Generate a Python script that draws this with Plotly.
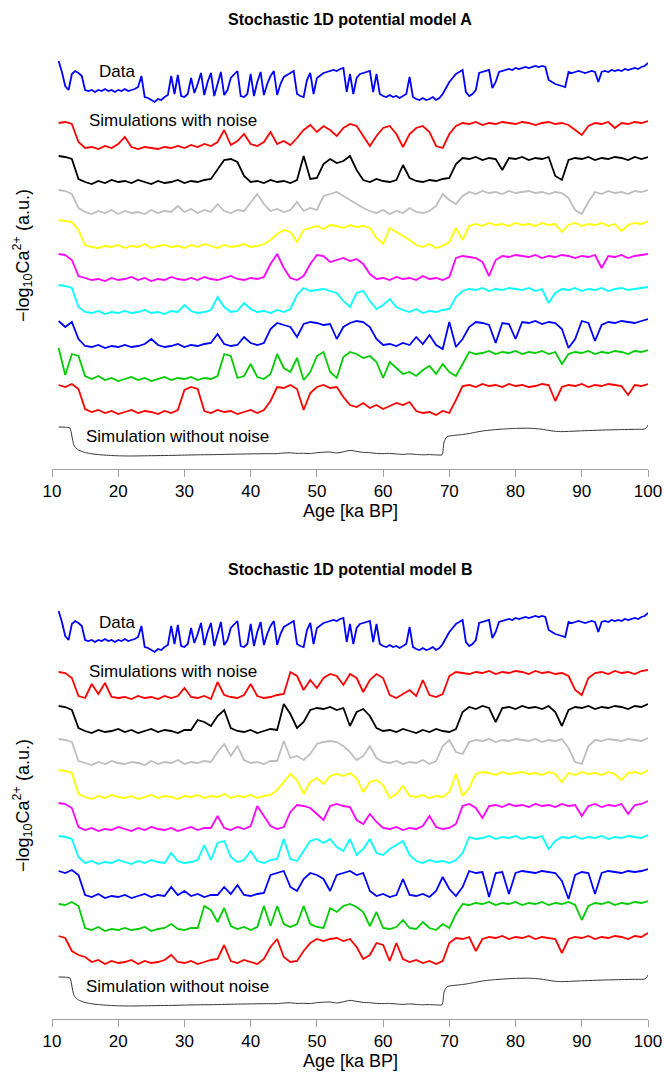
import plotly.graph_objects as go

# ---------------- data (a.u., height above each series' own cold level) ----------------
AGE = list(range(11, 101))
DATA_AGE = [11.0 + 0.5 * i for i in range(179)]

DATA = [41, 30, 16, 12, 28, 31, 29, 26, 12, 11,
        12, 10, 12, 11, 13, 11, 12, 10, 12, 11,
        13, 11, 12, 13, 15, 26, 5, 4, 2, 0,
        3, 2, 5, 7, 26, 8, 27, 6, 5, 8,
        24, 9, 18, 29, 7, 20, 29, 6, 18, 30,
        7, 12, 24, 28, 31, 6, 5, 8, 28, 6,
        20, 30, 7, 18, 26, 31, 7, 18, 25, 27,
        29, 31, 8, 6, 5, 22, 29, 8, 24, 27,
        29, 30, 31, 32, 31, 33, 34, 10, 28, 8,
        24, 28, 29, 30, 31, 10, 28, 8, 6, 5,
        7, 5, 6, 4, 6, 8, 25, 5, 3, 2,
        4, 2, 3, 5, 2, 4, 8, 14, 20, 24,
        28, 30, 32, 10, 6, 8, 12, 29, 30, 31,
        32, 14, 20, 30, 31, 32, 33, 32, 34, 33,
        34, 35, 34, 35, 36, 35, 36, 35, 22, 20,
        18, 17, 16, 15, 30, 29, 30, 31, 30, 29,
        30, 31, 30, 20, 30, 31, 30, 32, 31, 32,
        31, 33, 32, 33, 34, 33, 35, 36, 39]

NN_AGE = [11, 12, 12.7, 13.0, 13.3, 13.7, 14, 15, 16, 17,
          18, 19, 20, 22, 24, 26, 28, 30, 32, 34,
          36, 38, 40, 42, 44, 45, 46, 47, 48, 49,
          50, 51, 52, 53, 54, 55, 56, 57, 58, 59,
          60, 61, 62, 63, 64, 65, 66, 67, 68, 68.9,
          69.2, 69.6, 70, 71, 72, 73, 74, 75, 76, 77,
          78, 79, 80, 82, 84, 85, 86, 87, 88, 90,
          92, 94, 96, 98, 99.5, 99.8, 100]
NO_NOISE = [29, 28.8, 28, 20, 11, 7.5, 6, 3.5, 2.2, 1.4,
            0.9, 0.5, 0.2, 0, 0.2, 0.4, 0.6, 0.9, 1.2, 1.3,
            1.6, 1.9, 2.1, 2.3, 2.4, 3.0, 3.2, 2.6, 2.7, 2.5,
            3.3, 3.8, 4.0, 3.0, 4.2, 5.6, 4.6, 3.6, 3.3, 2.6,
            2.4, 2.6, 2.0, 1.6, 2.1, 1.6, 1.2, 1.4, 1.1, 1.3,
            14, 19, 20, 20.8, 21.5, 22.5, 23.8, 25, 25.8, 26.4,
            26.9, 27.3, 27.6, 27.8, 26.8, 25.6, 24.7, 24.4, 24.6, 25.2,
            25.7, 26.1, 26.4, 26.7, 27, 28.5, 31]

# model A simulations (top to bottom)
A_RED1 = [27, 28, 26, 8, 2, 3, 1, 4, 2, 6,
          13, 3, 1, 3, 2, 1, 3, 2, 4, 2,
          5, 3, 6, 4, 8, 20, 5, 9, 16, 6,
          4, 8, 18, 6, 9, 5, 12, 20, 25, 18,
          24, 20, 14, 22, 26, 24, 14, 4, 14, 22,
          24, 16, 3, 16, 22, 24, 18, 4, 2, 16,
          24, 27, 26, 28, 25, 27, 26, 28, 27, 26,
          28, 27, 25, 27, 28, 26, 27, 25, 20, 15,
          24, 27, 26, 28, 22, 27, 26, 28, 27, 29]
A_BLACK = [28, 27, 25, 5, 2, 0, 3, 1, 4, 2,
           3, 1, 4, 2, 0, 3, 1, 2, 4, 1,
           3, 2, 4, 5, 14, 24, 25, 22, 8, 2,
           3, 1, 4, 2, 3, 1, 4, 28, 5, 6,
           20, 25, 21, 23, 28, 14, 4, 2, 5, 3,
           2, 4, 19, 6, 3, 2, 4, 3, 5, 6,
           20, 26, 25, 27, 24, 26, 25, 14, 26, 25,
           27, 24, 26, 25, 27, 8, 4, 24, 26, 25,
           27, 24, 26, 25, 27, 26, 24, 27, 25, 27]
A_GRAY = [26, 25, 22, 8, 4, 2, 5, 3, 6, 2,
          5, 3, 4, 2, 6, 3, 5, 4, 10, 4,
          7, 3, 6, 4, 12, 5, 3, 6, 5, 14,
          22, 12, 5, 7, 4, 6, 14, 5, 8, 6,
          20, 22, 24, 20, 16, 12, 8, 5, 3, 6,
          2, 5, 3, 8, 4, 3, 5, 10, 22, 16,
          12, 20, 24, 22, 25, 23, 24, 22, 25, 23,
          24, 25, 23, 24, 22, 24, 23, 18, 6, 2,
          14, 24, 22, 25, 23, 24, 22, 25, 24, 26]
A_YELLOW = [30, 29, 28, 20, 5, 3, 2, 4, 3, 5,
            2, 4, 3, 6, 2, 4, 5, 3, 4, 2,
            5, 3, 6, 4, 2, 5, 3, 4, 6, 3,
            4, 6, 10, 16, 20, 18, 8, 20, 22, 24,
            21, 25, 24, 22, 25, 23, 24, 22, 12, 6,
            22, 18, 14, 10, 5, 3, 6, 2, 4, 8,
            22, 10, 24, 26, 24, 27, 25, 26, 24, 27,
            25, 26, 24, 27, 25, 26, 18, 25, 27, 24,
            26, 25, 27, 24, 26, 19, 25, 27, 26, 29]
A_MAGENTA = [28, 27, 22, 6, 4, 2, 3, 1, 4, 2,
             3, 5, 2, 4, 1, 3, 2, 5, 3, 2,
             4, 2, 5, 3, 2, 4, 6, 3, 2, 4,
             3, 5, 18, 28, 14, 4, 2, 6, 18, 27,
             26, 20, 22, 24, 21, 23, 18, 8, 3, 4,
             2, 5, 3, 4, 2, 6, 3, 4, 2, 5,
             24, 26, 25, 24, 20, 6, 22, 26, 25, 27,
             26, 25, 27, 24, 26, 25, 27, 26, 24, 26,
             25, 27, 14, 26, 25, 27, 24, 26, 27, 28]
A_CYAN = [30, 29, 27, 8, 3, 2, 4, 1, 3, 2,
          4, 2, 3, 5, 2, 3, 1, 4, 3, 10,
          4, 2, 3, 5, 18, 8, 3, 4, 12, 6,
          3, 4, 2, 5, 3, 6, 20, 27, 24, 25,
          26, 24, 22, 14, 8, 22, 24, 14, 6, 10,
          16, 8, 5, 3, 6, 2, 4, 3, 5, 6,
          18, 24, 26, 25, 27, 24, 26, 25, 27, 26,
          25, 27, 24, 26, 12, 22, 26, 25, 27, 24,
          26, 25, 27, 24, 26, 27, 25, 26, 27, 28]
A_BLUE = [28, 22, 27, 10, 3, 2, 4, 1, 3, 2,
          4, 2, 3, 5, 10, 4, 2, 3, 5, 2,
          4, 3, 5, 6, 15, 5, 3, 4, 12, 6,
          4, 6, 20, 26, 24, 22, 12, 25, 27, 26,
          24, 25, 10, 22, 26, 28, 27, 22, 10, 4,
          5, 3, 6, 4, 12, 5, 14, 4, 0, 27,
          2, 10, 22, 27, 26, 24, 6, 26, 25, 10,
          27, 26, 28, 25, 27, 26, 20, 1, 10, 28,
          26, 8, 24, 27, 26, 28, 27, 26, 28, 30]
A_GREEN = [34, 7, 28, 26, 6, 3, 6, 2, 4, 1,
           3, 5, 2, 4, 1, 3, 5, 2, 4, 3,
           5, 2, 4, 3, 6, 28, 26, 4, 6, 18,
           5, 3, 8, 28, 14, 10, 24, 2, 10, 26,
           30, 10, 4, 25, 30, 28, 24, 26, 20, 4,
           20, 14, 8, 10, 6, 12, 16, 8, 18, 10,
           6, 18, 30, 28, 29, 31, 28, 30, 29, 31,
           28, 30, 29, 31, 28, 30, 18, 28, 30, 29,
           31, 28, 30, 29, 31, 30, 28, 31, 30, 32]
A_RED2 = [30, 28, 31, 26, 6, 3, 5, 2, 4, 1,
          3, 5, 2, 4, 3, 1, 4, 2, 5, 25,
          28, 26, 4, 2, 5, 3, 4, 1, 3, 5,
          2, 5, 14, 28, 27, 30, 26, 5, 22, 28,
          30, 27, 28, 18, 10, 8, 12, 7, 10, 6,
          9, 12, 10, 13, 4, 2, 3, 0, 4, 2,
          15, 29, 30, 28, 31, 29, 30, 28, 31, 29,
          30, 28, 29, 31, 30, 14, 28, 30, 29, 31,
          28, 30, 29, 31, 30, 29, 20, 30, 29, 31]

# model B simulations (top to bottom)
B_RED1 = [28, 27, 22, 4, 2, 16, 6, 17, 3, 2,
          3, 1, 4, 2, 3, 1, 4, 2, 4, 12,
          3, 2, 4, 1, 18, 5, 3, 2, 5, 16,
          4, 2, 3, 5, 6, 28, 24, 10, 20, 12,
          22, 26, 24, 15, 26, 22, 8, 20, 26, 22,
          5, 2, 6, 10, 4, 20, 5, 3, 6, 24,
          28, 27, 26, 28, 27, 29, 26, 28, 27, 29,
          28, 26, 29, 27, 28, 26, 27, 24, 10, 5,
          22, 27, 28, 26, 29, 27, 28, 26, 29, 30]
B_BLACK = [28, 27, 24, 6, 3, 1, 4, 2, 3, 5,
           2, 4, 1, 3, 5, 2, 4, 3, 1, 4,
           4, 14, 12, 8, 18, 24, 6, 3, 2, 4,
           1, 3, 5, 4, 30, 20, 6, 12, 24, 26,
           25, 27, 24, 26, 8, 22, 25, 18, 6, 3,
           4, 2, 5, 3, 1, 4, 2, 5, 3, 2,
           5, 22, 27, 25, 28, 26, 12, 26, 27, 25,
           28, 26, 27, 25, 28, 22, 8, 24, 27, 26,
           28, 25, 27, 26, 28, 27, 25, 28, 27, 30]
B_GRAY = [27, 26, 24, 5, 3, 1, 4, 2, 5, 3,
          2, 4, 3, 1, 5, 2, 4, 3, 6, 2,
          4, 3, 5, 4, 14, 22, 10, 20, 6, 3,
          4, 2, 5, 5, 25, 8, 10, 6, 12, 22,
          24, 25, 24, 20, 14, 6, 10, 20, 8, 4,
          3, 5, 2, 4, 3, 6, 2, 5, 20, 26,
          14, 12, 24, 26, 25, 27, 24, 26, 25, 27,
          26, 25, 27, 24, 26, 25, 27, 18, 4, 2,
          20, 26, 25, 27, 26, 25, 27, 26, 25, 28]
B_YELLOW = [30, 29, 27, 6, 3, 1, 4, 2, 5, 3,
            2, 4, 1, 3, 5, 2, 4, 3, 1, 4,
            3, 5, 2, 4, 3, 6, 2, 4, 3, 5,
            2, 4, 5, 10, 18, 26, 20, 6, 18, 22,
            16, 24, 26, 24, 27, 22, 8, 18, 20, 15,
            2, 6, 14, 4, 3, 5, 2, 4, 3, 8,
            26, 4, 12, 26, 28, 27, 25, 28, 26, 27,
            28, 26, 27, 25, 28, 26, 18, 27, 25, 28,
            26, 27, 25, 28, 26, 20, 27, 28, 26, 30]
B_MAGENTA = [29, 28, 24, 5, 2, 4, 1, 3, 2, 5,
             3, 1, 4, 2, 5, 3, 2, 4, 1, 3,
             5, 2, 4, 4, 16, 4, 2, 5, 3, 6,
             26, 16, 6, 3, 5, 20, 27, 26, 24, 18,
             12, 26, 28, 26, 25, 12, 8, 18, 10, 4,
             3, 5, 2, 4, 3, 6, 16, 5, 3, 4,
             8, 26, 28, 24, 14, 26, 27, 25, 28, 26,
             27, 25, 28, 26, 27, 25, 28, 26, 27, 16,
             26, 28, 25, 27, 26, 28, 18, 27, 28, 31]
B_CYAN = [29, 28, 26, 8, 2, 4, 1, 3, 2, 5,
          3, 1, 4, 2, 5, 3, 2, 12, 4, 2,
          3, 5, 20, 5, 22, 24, 8, 3, 5, 14,
          4, 2, 5, 6, 26, 6, 4, 14, 24, 26,
          22, 26, 18, 14, 26, 10, 16, 26, 12, 10,
          16, 20, 24, 10, 4, 2, 5, 3, 4, 2,
          5, 12, 28, 26, 27, 29, 26, 28, 27, 29,
          26, 28, 27, 29, 16, 24, 28, 27, 29, 26,
          28, 27, 29, 26, 28, 27, 29, 28, 27, 30]
B_BLUE = [28, 26, 29, 24, 4, 2, 5, 1, 3, 2,
          4, 1, 3, 5, 2, 4, 3, 12, 4, 8,
          3, 5, 2, 4, 4, 12, 5, 14, 4, 3,
          5, 6, 24, 26, 28, 12, 8, 20, 26, 24,
          20, 8, 24, 26, 28, 24, 26, 8, 3, 5,
          2, 4, 20, 4, 3, 5, 2, 8, 22, 10,
          3, 12, 28, 26, 27, 2, 26, 27, 5, 26,
          28, 27, 26, 28, 27, 26, 18, 0, 24, 27,
          26, 5, 26, 28, 27, 26, 28, 27, 28, 30]
B_GREEN = [28, 27, 30, 26, 4, 2, 5, 1, 3, 2,
           4, 2, 3, 5, 1, 3, 4, 8, 3, 2,
           4, 4, 26, 22, 10, 24, 6, 3, 5, 2,
           5, 26, 6, 26, 8, 5, 8, 26, 8, 5,
           4, 24, 20, 26, 28, 25, 20, 6, 20, 4,
           3, 5, 12, 4, 3, 10, 4, 2, 8, 4,
           18, 28, 27, 29, 28, 30, 27, 29, 28, 30,
           27, 29, 28, 30, 27, 29, 28, 30, 27, 12,
           26, 29, 28, 30, 27, 29, 28, 30, 29, 31]
B_RED2 = [29, 27, 14, 10, 8, 3, 5, 1, 4, 2,
          3, 5, 1, 4, 2, 3, 5, 10, 3, 2,
          4, 1, 3, 5, 6, 20, 4, 2, 5, 3,
          1, 6, 18, 26, 8, 3, 4, 14, 22, 26,
          24, 26, 27, 24, 26, 18, 6, 10, 22, 20,
          4, 22, 6, 3, 5, 2, 4, 1, 4, 22,
          27, 26, 28, 14, 26, 28, 27, 29, 26, 28,
          27, 29, 26, 28, 27, 26, 12, 26, 28, 27,
          29, 26, 28, 27, 29, 28, 26, 29, 28, 32]

X_TICKS = [10, 20, 30, 40, 50, 60, 70, 80, 90, 100]

# ---------------- layout / styling ----------------
W, H = 664, 1082
FONT = "Liberation Sans, Arial, Helvetica, sans-serif"
SIM_COLORS = ["#ff0000", "#000000", "#bebebe", "#ffff00", "#ff00ff",
              "#00ffff", "#0000ff", "#00cd00", "#ff0000"]
# cold-level baselines (pixels from panel top), top to bottom
DATA_BASE = 102
SIM_BASES = [150, 184, 216, 250, 282, 315, 349, 382, 415]
NN_BASE = 456
PANEL_SHIFT = 550
X0, X1 = 52, 648
AXIS_Y = 469
TOP_Y = 40


def py(p):
    return 1 - p / H


fig = go.Figure()

panels = [
    ("x", "y", [A_RED1, A_BLACK, A_GRAY, A_YELLOW, A_MAGENTA, A_CYAN, A_BLUE, A_GREEN, A_RED2]),
    ("x2", "y2", [B_RED1, B_BLACK, B_GRAY, B_YELLOW, B_MAGENTA, B_CYAN, B_BLUE, B_GREEN, B_RED2]),
]

for xa, ya, sims in panels:
    fig.add_trace(go.Scatter(x=DATA_AGE, y=[v - DATA_BASE for v in DATA], mode="lines",
                             line=dict(color="#0000ff", width=1.8), xaxis=xa, yaxis=ya,
                             showlegend=False, hoverinfo="skip"))
    for vals, col, base in zip(sims, SIM_COLORS, SIM_BASES):
        fig.add_trace(go.Scatter(x=AGE, y=[v - base for v in vals], mode="lines",
                                 line=dict(color=col, width=1.8), xaxis=xa, yaxis=ya,
                                 showlegend=False, hoverinfo="skip"))
    fig.add_trace(go.Scatter(x=NN_AGE, y=[v - NN_BASE for v in NO_NOISE], mode="lines",
                             line=dict(color="#333333", width=1, shape="spline", smoothing=0.6),
                             xaxis=xa, yaxis=ya, showlegend=False, hoverinfo="skip"))

xaxis_style = dict(range=[10, 100], domain=[X0 / W, X1 / W], showgrid=False, zeroline=False,
                   showline=True, linecolor="#a0a0a0", linewidth=1, ticks="outside",
                   ticklen=7, tickcolor="#a0a0a0", tickwidth=1, tickvals=X_TICKS,
                   tickfont=dict(family=FONT, size=17, color="#000000"), fixedrange=True,
                   automargin=False)
yaxis_style = dict(range=[-AXIS_Y, -TOP_Y], visible=False, fixedrange=True, automargin=False)

fig.update_layout(
    width=W, height=H, autosize=False,
    margin=dict(l=0, r=0, t=0, b=0, pad=0, autoexpand=False),
    paper_bgcolor="white", plot_bgcolor="white", showlegend=False,
    xaxis=dict(xaxis_style, anchor="y"),
    xaxis2=dict(xaxis_style, anchor="y2"),
    yaxis=dict(yaxis_style, domain=[py(AXIS_Y), py(TOP_Y)], anchor="x"),
    yaxis2=dict(yaxis_style, domain=[py(AXIS_Y + PANEL_SHIFT), py(TOP_Y + PANEL_SHIFT)], anchor="x2"),
)

ann = []
for k, label in enumerate(["A", "B"]):
    s = k * PANEL_SHIFT
    ann.append(dict(text="<b>Stochastic 1D potential model " + label + "</b>", x=350 / W, y=py(19 + s),
                    xref="paper", yref="paper", showarrow=False, xanchor="center", yanchor="middle",
                    font=dict(family=FONT, size=16, color="#000000")))
    ann.append(dict(text="Age [ka BP]", x=350 / W, y=py(511 + s), xref="paper", yref="paper",
                    showarrow=False, xanchor="center", yanchor="middle",
                    font=dict(family=FONT, size=18, color="#000000")))
    ann.append(dict(text="\u2212log<sub>10</sub>Ca<sup>2+</sup> (a.u.)", x=22 / W, y=py(256 + s),
                    xref="paper", yref="paper", showarrow=False, textangle=-90,
                    xanchor="center", yanchor="middle",
                    font=dict(family=FONT, size=18, color="#000000")))
    ann.append(dict(text="Data", x=97 / W, y=py(72 + s), xref="paper", yref="paper",
                    showarrow=False, xanchor="left", yanchor="middle",
                    font=dict(family=FONT, size=17, color="#000000")))
    ann.append(dict(text="Simulations with noise", x=87 / W, y=py(121 + s), xref="paper", yref="paper",
                    showarrow=False, xanchor="left", yanchor="middle",
                    font=dict(family=FONT, size=17, color="#000000")))
    ann.append(dict(text="Simulation without noise", x=84 / W, y=py(436 + s), xref="paper", yref="paper",
                    showarrow=False, xanchor="left", yanchor="middle",
                    font=dict(family=FONT, size=17, color="#000000")))

fig.update_layout(annotations=ann)
fig.write_html("out.html", config={"displayModeBar": False},
               post_script="document.body.style.margin='0';document.body.style.padding='0';"
                           "document.documentElement.style.overflow='hidden';")
